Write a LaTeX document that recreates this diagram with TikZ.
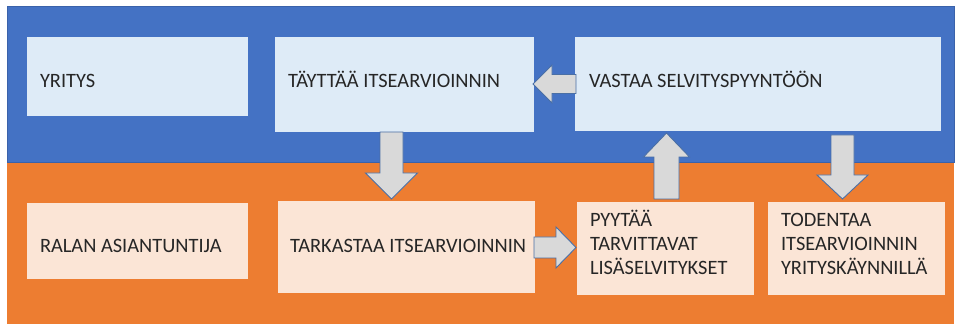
\documentclass[tikz,border=0pt]{standalone}
\usepackage{fontspec}
\setmainfont{Carlito}
\usetikzlibrary{calc}
\definecolor{bandblue}{HTML}{4472C4}
\definecolor{bandedge}{HTML}{3A62AA}
\definecolor{bandorange}{HTML}{ED7D31}
\definecolor{boxblue}{HTML}{DEEBF7}
\definecolor{boxorange}{HTML}{FBE5D6}
\definecolor{arrfill}{HTML}{D9D9D9}
\definecolor{arredge}{HTML}{4A6FA5}
\definecolor{txtcol}{HTML}{262626}
% block arrow: start, end (tip), shaft half width, head half width, head length
\newcommand\blkarrow[5]{%
 \draw[blkarrow] let \p1=(#1), \p2=(#2), \n1={atan2(\y2-\y1,\x2-\x1)}, \n2={veclen(\x2-\x1,\y2-\y1)-#5} in
 ($(\p1)+(\n1+90:#3)$) -- ($(\p1)+(\n1:\n2)+(\n1+90:#3)$) -- ($(\p1)+(\n1:\n2)+(\n1+90:#4)$) -- (\p2) -- ($(\p1)+(\n1:\n2)+(\n1-90:#4)$) -- ($(\p1)+(\n1:\n2)+(\n1-90:#3)$) -- ($(\p1)+(\n1-90:#3)$) -- cycle;}
\begin{document}
\begin{tikzpicture}[x=1pt,y=1pt,
  box/.style={rectangle, inner sep=0pt, outer sep=0pt, draw=none},
  topbox/.style={box, fill=boxblue},
  botbox/.style={box, fill=boxorange},
  txt/.style={inner sep=0pt, outer sep=0pt, anchor=base west, align=left, text=txtcol, font=\fontsize{20.4}{24}\selectfont},
  blkarrow/.style={fill=arrfill, draw=arredge, line width=0.9pt, line join=miter}]
\useasboundingbox (0,0) rectangle (956,324);
\fill[bandorange] (7,0) rectangle (954,161);
\filldraw[fill=bandblue, draw=bandedge, line width=1pt] (7,161) rectangle (954,317);

\node[topbox, minimum width=221pt, minimum height=79pt] (yritys) at (137.5,247.5) {};
\node[topbox, minimum width=259pt, minimum height=95pt] (taytta) at (404.5,239.5) {};
\node[topbox, minimum width=366pt, minimum height=94pt] (vastaa) at (758,240) {};
\node[botbox, minimum width=221pt, minimum height=76pt] (ralan) at (137.5,83) {};
\node[botbox, minimum width=257pt, minimum height=92pt] (tarkastaa) at (406.5,77) {};
\node[botbox, minimum width=177pt, minimum height=93pt] (pyytaa) at (665.5,75.5) {};
\node[botbox, minimum width=177pt, minimum height=93pt] (todentaa) at (856.5,75.5) {};

\node[txt] (yritysT) at ($(yritys.west)+(13,-11.5)$) {YRITYS};
\node[txt] (tayttaT) at ($(taytta.west)+(13,-3.5)$) {TÄYTTÄÄ ITSEARVIOINNIN};
\node[txt] (vastaaT) at ($(vastaa.west)+(14,-4)$) {VASTAA SELVITYSPYYNTÖÖN};
\node[txt] (ralanT) at ($(ralan.west)+(13,-12)$) {RALAN ASIANTUNTIJA};
\node[txt] (tarkastaaT) at ($(tarkastaa.west)+(12,-6)$) {TARKASTAA ITSEARVIOINNIN};
\node[txt] (pyytaaT) at ($(pyytaa.west)+(13,-26.5)$) {PYYTÄÄ\\TARVITTAVAT\\LISÄSELVITYKSET};
\node[txt] (todentaaT) at ($(todentaa.west)+(13,-26.5)$) {TODENTAA\\ITSEARVIOINNIN\\YRITYSKÄYNNILLÄ};

\coordinate (a1s) at ($(taytta.south)+(-13,0)$);
\blkarrow{a1s}{$(a1s |- tarkastaa.north)+(0,2)$}{11.5}{26}{26}
\coordinate (a2s) at ($(vastaa.west)+(1,0)$);
\blkarrow{a2s}{$(vastaa.west -| taytta.east)+(-1,0)$}{9.5}{19}{19}
\coordinate (a3s) at ($(pyytaa.north)+(1,3)$);
\blkarrow{a3s}{$(a3s |- vastaa.south)+(0,-2)$}{12.5}{23}{24}
\coordinate (a4s) at ($(vastaa.south)+(84.5,-4)$);
\blkarrow{a4s}{$(a4s |- todentaa.north)+(0,3)$}{11.5}{25.5}{24}
\coordinate (a5s) at ($(tarkastaa.east)+(-1,-0.5)$);
\blkarrow{a5s}{$(a5s -| pyytaa.west)+(-1,0)$}{10.5}{20.5}{20}
\end{tikzpicture}
\end{document}
